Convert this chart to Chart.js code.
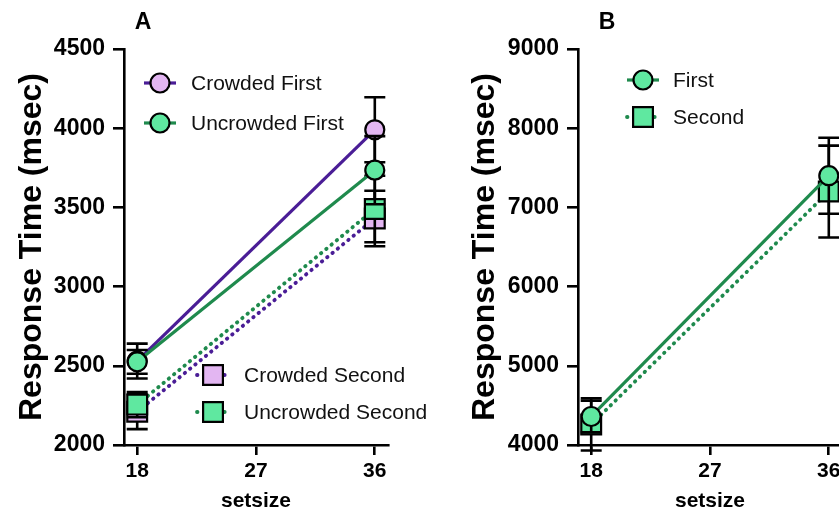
<!DOCTYPE html>
<html><head><meta charset="utf-8">
<script src="https://cdn.jsdelivr.net/npm/chart.js@4.4.1/dist/chart.umd.min.js"></script>
<style>
html,body{margin:0;padding:0;background:#fff;overflow:hidden;width:839px;height:514px;position:relative;}
#ca{position:absolute;left:0;top:0;}
#cb{position:absolute;left:440px;top:0;}
</style></head><body>
<canvas id="ca" width="440" height="514"></canvas>
<canvas id="cb" width="440" height="514"></canvas>
<script>
// ---- data ----
const setsize = [18, 36];
const xTicks = [18, 27, 36];
const yTicksA = [2000, 2500, 3000, 3500, 4000, 4500];
const yTicksB = [4000, 5000, 6000, 7000, 8000, 9000];

const crowdedFirst = [2530, 3990];
const crowdedFirstErr = [110, 205];
const uncrowdedFirst = [2525, 3735];
const uncrowdedFirstErr = [75, 215];
const crowdedSecond = [2210, 3430];
const crowdedSecondErr = [110, 175];
const uncrowdedSecond = [2255, 3490];
const uncrowdedSecondErr = [80, 210];

const firstB = [4360, 7400];
const firstBErr = [200, 480];
const secondB = [4260, 7200];
const secondBErr = [330, 580];

// ---- styles ----
const FONT = "'Liberation Sans', Arial, Helvetica, sans-serif";
Chart.defaults.font.family = FONT;
const PURPLE = '#4a1d96';
const GREEN = '#1f8a4d';
const LAV = '#e3b6f2';
const MINT = '#5fe8a0';

function pts(vals){ return setsize.map((x,i)=>({x:x, y:vals[i]})); }

function mkDs(label, vals, errs, color, fill, style, dotted, order){
  return {
    label: label, data: pts(vals), errors: errs, order: order,
    borderColor: color, borderWidth: dotted ? 3.8 : 3.2,
    borderDash: dotted ? [0.5, 6.3] : [], borderCapStyle: dotted ? 'round' : 'butt',
    pointStyle: style, pointRadius: style === 'rect' ? 14 : 9.5,
    pointBackgroundColor: fill, pointBorderColor: '#000', pointBorderWidth: 2.2,
    pointHoverRadius: style === 'rect' ? 14 : 9.5,
    clip: false, tension: 0, fill: false
  };
}

const errorBars = {
  id: 'errorBars',
  beforeDatasetDraw(chart, args){
    const ds = chart.data.datasets[args.index];
    if (!ds.errors) return;
    const ys = chart.scales.y, ctx = chart.ctx;
    ctx.save();
    ctx.strokeStyle = '#000'; ctx.lineWidth = 2.6; ctx.setLineDash([]);
    args.meta.data.forEach((pt, i) => {
      const v = ds.data[i].y, e = ds.errors[i];
      const yt = ys.getPixelForValue(v + e), yb = ys.getPixelForValue(v - e);
      const x = pt.x;
      ctx.beginPath();
      ctx.moveTo(x, yt); ctx.lineTo(x, yb);
      ctx.moveTo(x - 10.5, yt); ctx.lineTo(x + 10.5, yt);
      ctx.moveTo(x - 10.5, yb); ctx.lineTo(x + 10.5, yb);
      ctx.stroke();
    });
    ctx.restore();
  }
};

const deco = {
  id: 'deco',
  afterDraw(chart, args, opts){
    const ctx = chart.ctx;
    ctx.save();
    ctx.fillStyle = '#000';
    ctx.font = 'bold 23px ' + FONT;
    ctx.textAlign = 'center'; ctx.textBaseline = 'middle';
    ctx.fillText(opts.letter, opts.letterX, 23);
    (opts.items || []).forEach(it => {
      const ds = chart.data.datasets[it.index];
      ctx.save();
      ctx.strokeStyle = ds.borderColor; ctx.lineWidth = ds.borderWidth;
      ctx.setLineDash(ds.borderDash); ctx.lineCap = ds.borderCapStyle;
      ctx.beginPath(); ctx.moveTo(it.x - 16, it.y); ctx.lineTo(it.x + 16, it.y); ctx.stroke();
      ctx.restore();
      ctx.save();
      ctx.fillStyle = ds.pointBackgroundColor; ctx.strokeStyle = '#000'; ctx.lineWidth = 2.2;
      Chart.helpers.drawPoint(ctx, {pointStyle: ds.pointStyle, radius: ds.pointRadius, borderWidth: 2.2, rotation: 0}, it.x, it.y);
      ctx.restore();
      ctx.fillStyle = '#111';
      ctx.font = '21px ' + FONT;
      ctx.textAlign = 'left'; ctx.textBaseline = 'middle';
      ctx.fillText(ds.label, it.tx, it.y + 1);
    });
    ctx.restore();
  }
};

function makeChart(id, datasets, yMin, yMax, yTicks, yWidth, titlePad, rightPad, decoOpts){
  return new Chart(document.getElementById(id), {
    type: 'line',
    data: { datasets: datasets },
    plugins: [errorBars, deco],
    options: {
      responsive: false, animation: false, devicePixelRatio: 1,
      layout: { padding: { left: 0, top: 49, right: rightPad, bottom: 0 } },
      plugins: { legend: {display: false}, tooltip: {enabled: false}, deco: decoOpts },
      scales: {
        x: {
          type: 'linear', min: 17, max: 37,
          afterBuildTicks: s => { s.ticks = xTicks.map(v => ({value: v})); },
          afterFit: s => { s.height = 69; },
          grid: { drawOnChartArea: false, color: '#000', lineWidth: 2.6, tickLength: 10 },
          border: { color: '#000', width: 2.6 },
          ticks: { color: '#000', font: {size: 21, weight: 'bold'}, padding: 4, maxRotation: 0, callback: v => String(v) },
          title: { display: true, text: 'setsize', color: '#000', font: {size: 21, weight: 'bold'}, padding: {top: 0, bottom: 0} }
        },
        y: {
          min: yMin, max: yMax,
          afterBuildTicks: s => { s.ticks = yTicks.map(v => ({value: v})); },
          afterFit: s => { s.width = yWidth; },
          grid: { drawOnChartArea: false, color: '#000', lineWidth: 2.6, tickLength: 11 },
          border: { color: '#000', width: 2.6 },
          ticks: { color: '#000', font: {size: 23, weight: 'bold'}, padding: 8, callback: v => String(v) },
          title: { display: true, text: 'Response Time (msec)', color: '#000', font: {size: 32, weight: 'bold'}, padding: {top: titlePad, bottom: 0} }
        }
      }
    }
  });
}

makeChart('ca', [
  mkDs('Crowded First', crowdedFirst, crowdedFirstErr, PURPLE, LAV, 'circle', false, 1),
  mkDs('Uncrowded First', uncrowdedFirst, uncrowdedFirstErr, GREEN, MINT, 'circle', false, 0),
  mkDs('Crowded Second', crowdedSecond, crowdedSecondErr, PURPLE, LAV, 'rect', true, 3),
  mkDs('Uncrowded Second', uncrowdedSecond, uncrowdedSecondErr, GREEN, MINT, 'rect', true, 2)
], 2000, 4500, yTicksA, 124, 13, 52, {
  letter: 'A', letterX: 143,
  items: [
    {index: 0, x: 160, y: 83, tx: 191},
    {index: 1, x: 160, y: 123, tx: 191},
    {index: 2, x: 213, y: 375, tx: 244},
    {index: 3, x: 213, y: 412, tx: 244}
  ]
});

makeChart('cb', [
  mkDs('First', firstB, firstBErr, GREEN, MINT, 'circle', false, 0),
  mkDs('Second', secondB, secondBErr, GREEN, MINT, 'rect', true, 1)
], 4000, 9000, yTicksB, 138, 26, 38, {
  letter: 'B', letterX: 167,
  items: [
    {index: 0, x: 203, y: 80, tx: 233},
    {index: 1, x: 203, y: 117, tx: 233}
  ]
});
</script>
</body></html>
